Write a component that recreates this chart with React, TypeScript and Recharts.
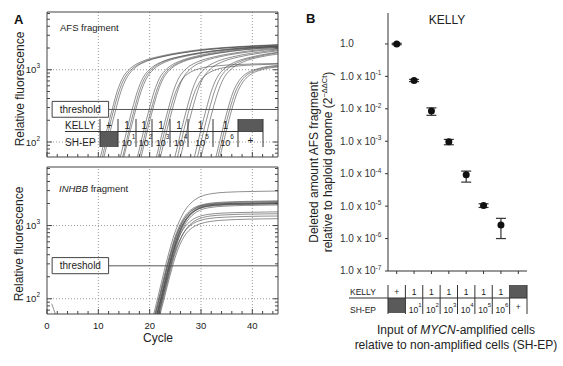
import React from 'react';
import {
  LineChart, Line, XAxis, YAxis, ReferenceLine, ReferenceArea,
  ScatterChart, Scatter, ErrorBar,
} from 'recharts';

type Pt = [number, number];

// ---------- Panel A data: amplification curves [cycle, relative fluorescence] ----------
const afsCurves: Pt[][] = [
  [[9.7,40],[10.7,75],[11.7,150],[12.7,282],[13.7,510],[14.7,760],[15.7,960],[16.7,1110],[18.7,1320],[21.7,1520],[25.7,1730],[30.7,1930],[36.7,2080],[45,2230]],
  [[10,38],[11,72],[12,145],[13,280],[14,495],[15,740],[16,940],[17,1090],[19,1300],[22,1500],[26,1700],[31,1900],[37,2050],[45,2200]],
  [[10.4,40],[11.4,76],[12.4,148],[13.4,282],[14.4,500],[15.4,745],[16.4,945],[17.4,1100],[19.4,1310],[22.4,1510],[26.4,1710],[31.4,1910],[37.4,2060],[45,2190]],
  [[13.6,40],[14.6,76],[15.6,150],[16.6,282],[17.6,500],[18.6,750],[19.6,950],[20.6,1100],[22.6,1310],[25.6,1510],[29.6,1710],[34.6,1900],[40.6,2050],[45,2120]],
  [[14,39],[15,74],[16,148],[17,283],[18,505],[19,755],[20,955],[21,1105],[23,1320],[26,1520],[30,1720],[35,1920],[41,2070],[45,2130]],
  [[14.3,41],[15.3,77],[16.3,150],[17.3,281],[18.3,495],[19.3,740],[20.3,940],[21.3,1090],[23.3,1300],[26.3,1500],[30.3,1700],[35.3,1890],[41.3,2030],[45,2090]],
  [[16.9,40],[17.9,75],[18.9,150],[19.9,282],[20.9,505],[21.9,760],[22.9,960],[23.9,1110],[25.9,1320],[28.9,1530],[32.9,1740],[37.9,1940],[45,2100]],
  [[17.3,40],[18.3,75],[19.3,149],[20.3,282],[21.3,500],[22.3,750],[23.3,950],[24.3,1100],[26.3,1310],[29.3,1510],[33.3,1710],[38.3,1900],[45,2050]],
  [[17.6,39],[18.6,74],[19.6,148],[20.6,283],[21.6,500],[22.6,745],[23.6,945],[24.6,1095],[26.6,1300],[29.6,1500],[33.6,1700],[38.6,1890],[45,2030]],
  [[20.6,40],[21.6,75],[22.6,150],[23.6,282],[24.6,500],[25.6,750],[26.6,950],[27.6,1100],[29.6,1310],[32.6,1510],[36.6,1710],[41.6,1900],[45,1980]],
  [[21,40],[22,76],[23,150],[24,282],[25,480],[26,680],[27,830],[28,930],[30,1050],[33,1130],[37,1180],[45,1220]],
  [[21.4,41],[22.4,76],[23.4,150],[24.4,281],[25.4,495],[26.4,745],[27.4,945],[28.4,1095],[30.4,1300],[33.4,1500],[37.4,1690],[42.4,1870],[45,1930]],
  [[24.2,40],[25.2,75],[26.2,150],[27.2,282],[28.2,500],[29.2,750],[30.2,950],[31.2,1100],[33.2,1310],[36.2,1510],[40.2,1710],[45,1880]],
  [[24.7,40],[25.7,75],[26.7,150],[27.7,282],[28.7,480],[29.7,670],[30.7,820],[31.7,920],[33.7,1040],[36.7,1120],[40.7,1170],[45,1200]],
  [[25.3,40],[26.3,76],[27.3,150],[28.3,282],[29.3,495],[30.3,745],[31.3,940],[32.3,1090],[34.3,1300],[37.3,1500],[41.3,1690],[45,1830]],
  [[28,40],[29,75],[30,150],[31,282],[32,500],[33,750],[34,950],[35,1100],[37,1310],[40,1510],[45,1750]],
  [[28.6,40],[29.6,75],[30.6,150],[31.6,282],[32.6,495],[33.6,740],[34.6,940],[35.6,1090],[37.6,1300],[40.6,1500],[45,1720]],
  [[29.3,41],[30.3,76],[31.3,150],[32.3,282],[33.3,490],[34.3,735],[35.3,930],[36.3,1080],[38.3,1290],[41.3,1490],[45,1650]],
  [[32.2,40],[33.2,75],[34.2,150],[35.2,282],[36.2,480],[37.2,670],[38.2,820],[39.2,920],[41.2,1040],[45,1150]],
  [[32.6,40],[33.6,75],[34.6,150],[35.6,282],[36.6,475],[37.6,660],[38.6,810],[39.6,910],[41.6,1030],[45,1120]],
  [[33,40],[34,76],[35,150],[36,282],[37,470],[38,650],[39,790],[40,890],[42,1010],[45,1090]],
];

const inhbbCurves: Pt[][] = [
  [[19.8,35],[20.8,62],[21.8,120],[22.8,235],[23.8,440],[24.8,760],[25.8,1150],[26.8,1580],[27.8,1950],[28.8,2250],[30,2500],[32,2720],[35,2850],[40,2920],[45,2960]],
  [[20,36],[21,62],[22,118],[23,228],[24,420],[25,720],[26,1060],[27,1380],[28,1630],[29,1800],[31,1980],[34,2080],[38,2130],[45,2180]],
  [[20.2,37],[21.2,63],[22.2,119],[23.2,230],[24.2,425],[25.2,715],[26.2,1040],[27.2,1350],[28.2,1600],[29.2,1770],[31.2,1950],[34.2,2040],[38.2,2090],[45,2130]],
  [[20.4,35],[21.4,61],[22.4,116],[23.4,225],[24.4,415],[25.4,700],[26.4,1020],[27.4,1320],[28.4,1560],[29.4,1730],[31.4,1900],[34.4,1990],[38.4,2030],[45,2070]],
  [[20.1,36],[21.1,62],[22.1,117],[23.1,226],[24.1,418],[25.1,705],[26.1,1030],[27.1,1330],[28.1,1570],[29.1,1740],[31.1,1910],[34.1,1980],[38.1,2010],[45,2040]],
  [[20.6,36],[21.6,62],[22.6,118],[23.6,228],[24.6,420],[25.6,710],[26.6,1030],[27.6,1320],[28.6,1550],[29.6,1710],[31.6,1870],[34.6,1950],[38.6,1990],[45,2010]],
  [[20.3,34],[21.3,60],[22.3,115],[23.3,222],[24.3,410],[25.3,690],[26.3,1000],[27.3,1280],[28.3,1500],[29.3,1660],[31.3,1820],[34.3,1900],[38.3,1940],[45,1970]],
  [[20.5,35],[21.5,61],[22.5,117],[23.5,226],[24.5,416],[25.5,700],[26.5,1010],[27.5,1300],[28.5,1520],[29.5,1690],[31.5,1850],[34.5,1930],[38.5,1960],[45,1990]],
  [[20.7,35],[21.7,60],[22.7,114],[23.7,220],[24.7,405],[25.7,680],[26.7,980],[27.7,1250],[28.7,1460],[29.7,1610],[31.7,1760],[34.7,1840],[38.7,1880],[45,1910]],
  [[20.4,35],[21.4,60],[22.4,112],[23.4,215],[24.4,390],[25.4,620],[26.4,860],[27.4,1060],[28.4,1210],[29.4,1310],[31.4,1420],[34.4,1480],[38.4,1510],[45,1540]],
  [[20.8,34],[21.8,59],[22.8,110],[23.8,210],[24.8,380],[25.8,600],[26.8,830],[27.8,1020],[28.8,1160],[29.8,1250],[31.8,1350],[34.8,1400],[38.8,1430],[45,1450]],
  [[20.6,34],[21.6,58],[22.6,108],[23.6,205],[24.6,370],[25.6,580],[26.6,790],[27.6,960],[28.6,1080],[29.6,1160],[31.6,1250],[34.6,1300],[38.6,1330],[45,1350]],
  [[20.9,33],[21.9,57],[22.9,106],[23.9,200],[24.9,355],[25.9,550],[26.9,740],[27.9,890],[28.9,990],[29.9,1060],[31.9,1140],[34.9,1190],[38.9,1220],[45,1240]],
  [[0.9,86],[1.3,72],[1.7,60],[2.1,50]],
];

const cycleTicks = [0, 2, 4, 6, 8, 10, 12, 14, 16, 18, 20, 22, 24, 26, 28, 30, 32, 34, 36, 38, 40, 42, 44];
const cycleLabels = [0, 10, 20, 30, 40];
const fluorTicks = [70, 80, 90, 100, 200, 300, 400, 500, 600, 700, 800, 900, 1000, 2000, 3000, 4000, 5000, 6000];
const fluorLabels = [100, 1000];
const fluorDomain: [number, number] = [62, 6300];
const threshold = 282;
const thresholdBox = { x1: 1, x2: 12, y1: 220, y2: 365 };

// ---------- Table rows (shared by panels A and B) ----------
const kellyInput = ['+', '1', '1', '1', '1', '1', '1', ''];
const shepInput = ['', '1', '2', '3', '4', '5', '6', '+'];

// ---------- Panel B data ----------
const bCategories = [1, 2, 3, 4, 5, 6, 7, 8];
const bValues = [1.0, 0.075, 0.0085, 0.00097, 0.000093, 0.0000105, 0.0000026];
const bErrLow = [0.05, 0.006, 0.0022, 0.00019, 0.000038, 0.0000014, 0.0000016];
const bErrHigh = [0.05, 0.006, 0.0022, 0.00017, 0.000027, 0.0000013, 0.0000016];
const bTicks = [1, 0.1, 0.01, 0.001, 0.0001, 0.00001, 0.000001, 0.0000001];
const bDomain: [number, number] = [0.0000001, 9];

const bData = bValues.map((v, i) => ({ x: bCategories[i], y: v, err: [bErrLow[i], bErrHigh[i]] }));

const FONT = '"Liberation Sans", Arial, Helvetica, sans-serif';
const AX = '#444';
const toData = (c: Pt[]) => c.map(([cy, v]) => ({ c: cy, v }));

// ---------- tick renderers ----------
const makeXTick = (side: 'bottom' | 'top', showLabels: boolean) => (p: any) => {
  const { x, y, payload } = p;
  const v = payload.value;
  const major = cycleLabels.includes(v);
  const len = major ? 5 : 3;
  const dir = side === 'bottom' ? -1 : 1;
  return (
    <g>
      <line x1={x} y1={y} x2={x} y2={y + dir * len} stroke={AX} strokeWidth={1} />
      {showLabels && major && (
        <text x={x} y={y + 14.5} textAnchor="middle" fontSize={9.5} fill="#222">{v}</text>
      )}
    </g>
  );
};

const makeYTick = (side: 'left' | 'right', showLabels: boolean) => (p: any) => {
  const { x, y, payload } = p;
  const v = payload.value;
  const major = fluorLabels.includes(v);
  const len = major ? 5 : 3;
  const dir = side === 'left' ? 1 : -1;
  return (
    <g>
      <line x1={x} y1={y} x2={x + dir * len} y2={y} stroke={AX} strokeWidth={1} />
      {showLabels && major && (
        <text x={x - 7} y={y + 3.5} textAnchor="end" fontSize={9.5} fill="#222">
          10<tspan dy={-5} fontSize={6.5}>{Math.round(Math.log10(v))}</tspan>
        </text>
      )}
    </g>
  );
};

const BYTick = (p: any) => {
  const { x, y, payload } = p;
  const e = Math.round(Math.log10(payload.value));
  return (
    <g>
      <line x1={x} y1={y} x2={x - 3} y2={y} stroke="#333" strokeWidth={1} />
      <text x={x - 48} y={y + 3.4} fontSize={10} fill="#333">
        {e === 0 ? '1.0' : (<>1.0 x 10<tspan dy={-4.5} fontSize={6.5}>{String(e)}</tspan></>)}
      </text>
    </g>
  );
};

const B_HALF = 8.7;
const BXTick = (p: any) => {
  const { x, y, payload } = p;
  const i = payload.value - 1;
  const k = kellyInput[i];
  const s = shepInput[i];
  return (
    <g fontSize={8.5} fill="#222">
      <line x1={x} y1={y} x2={x} y2={y + 3} stroke="#333" strokeWidth={1} />
      {k === '' ? (
        <rect x={x - B_HALF} y={y + 14} width={B_HALF * 2} height={13} fill="#5a5a5a" />
      ) : (
        <text x={x} y={y + 24} textAnchor="middle">{k}</text>
      )}
      {s === '' ? (
        <rect x={x - B_HALF} y={y + 27} width={B_HALF * 2} height={15} fill="#5a5a5a" />
      ) : s === '+' ? (
        <text x={x} y={y + 39} textAnchor="middle">+</text>
      ) : (
        <text x={x + 1} y={y + 41.5} textAnchor="middle">10<tspan dy={-6} fontSize={6}>{s}</tspan></text>
      )}
      {i === 0 && <line x1={x - B_HALF} y1={y + 14} x2={x - B_HALF} y2={y + 43} stroke="#333" strokeWidth={1} />}
      <line x1={x + B_HALF} y1={y + 14} x2={x + B_HALF} y2={y + 43} stroke="#333" strokeWidth={1} />
    </g>
  );
};

// ---------- Panel A plot ----------
const QPCRPlot = ({ curves, showXLabels }: { curves: Pt[][]; showXLabels: boolean }) => (
  <>
    <XAxis xAxisId="b" dataKey="c" type="number" domain={[0, 45]} allowDataOverflow ticks={cycleTicks}
      interval={0} height={1} tickSize={0} tickMargin={0} tickLine={false}
      axisLine={{ stroke: AX }} tick={makeXTick('bottom', showXLabels)} />
    <XAxis xAxisId="t" orientation="top" type="number" domain={[0, 45]} allowDataOverflow ticks={cycleTicks}
      interval={0} height={1} tickSize={0} tickMargin={0} tickLine={false}
      axisLine={{ stroke: AX }} tick={makeXTick('top', false)} />
    <YAxis yAxisId="l" dataKey="v" type="number" scale="log" domain={fluorDomain} allowDataOverflow ticks={fluorTicks}
      interval={0} width={47} tickSize={0} tickMargin={0} tickLine={false}
      axisLine={{ stroke: AX }} tick={makeYTick('left', true)} />
    <YAxis yAxisId="r" orientation="right" type="number" scale="log" domain={fluorDomain} allowDataOverflow ticks={fluorTicks}
      interval={0} width={1} tickSize={0} tickMargin={0} tickLine={false}
      axisLine={{ stroke: AX }} tick={makeYTick('right', false)} />
    {[10, 20, 30, 40].map((g) => (
      <ReferenceLine key={'gx' + g} xAxisId="b" yAxisId="l" x={g} stroke="#999" strokeDasharray="1 2" />
    ))}
    {fluorLabels.map((g) => (
      <ReferenceLine key={'gy' + g} xAxisId="b" yAxisId="l" y={g} stroke="#999" strokeDasharray="1 2" />
    ))}
    {curves.map((c, i) => (
      <Line key={i} xAxisId="b" yAxisId="l" data={toData(c)} dataKey="v" type="monotone" dot={false}
        stroke="#454545" strokeWidth={0.6} isAnimationActive={false} />
    ))}
    <ReferenceLine xAxisId="b" yAxisId="l" segment={[{ x: thresholdBox.x2, y: threshold }, { x: 45, y: threshold }]}
      stroke="#555" strokeWidth={1} />
    <ReferenceArea xAxisId="b" yAxisId="l" x1={thresholdBox.x1} x2={thresholdBox.x2} y1={thresholdBox.y1} y2={thresholdBox.y2}
      fill="#fff" fillOpacity={1} stroke="#444" strokeWidth={1}
      label={{ value: 'threshold', position: 'center', fontSize: 10, fill: '#222' }} />
  </>
);

const aCols = [100, 118, 136, 152, 170, 188, 213, 238, 263];

export default function App() {
  return (
    <div style={{ position: 'absolute', left: 0, top: 0, width: 563, height: 366, background: '#fff', fontFamily: FONT, overflow: 'hidden' }}>
      {/* Panel A top */}
      <div style={{ position: 'absolute', left: 0, top: 0 }}>
        <LineChart width={290} height={170} margin={{ top: 11, right: 11, bottom: 12, left: 0 }}>
          {QPCRPlot({ curves: afsCurves, showXLabels: false })}
        </LineChart>
      </div>
      {/* Panel A bottom */}
      <div style={{ position: 'absolute', left: 0, top: 160 }}>
        <LineChart width={290} height={206} margin={{ top: 6, right: 11, bottom: 51, left: 0 }}>
          {QPCRPlot({ curves: inhbbCurves, showXLabels: true })}
        </LineChart>
      </div>
      {/* Panel B */}
      <div style={{ position: 'absolute', left: 290, top: 0 }}>
        <ScatterChart width={273} height={366} margin={{ top: 13, right: 36, bottom: 35, left: 0 }}>
          <XAxis dataKey="x" type="number" domain={[0.5, 8.5]} allowDataOverflow ticks={bCategories} interval={0}
            height={60} tickSize={0} tickMargin={0} tickLine={false} axisLine={{ stroke: '#333' }} tick={BXTick} />
          <YAxis dataKey="y" type="number" scale="log" domain={bDomain} allowDataOverflow ticks={bTicks} interval={0}
            width={98} tickSize={0} tickMargin={0} tickLine={false} axisLine={{ stroke: '#333' }} tick={BYTick} />
          <Scatter data={bData} isAnimationActive={false}
            shape={(p: any) => <circle cx={p.cx} cy={p.cy} r={3.5} fill="#111" />}>
            <ErrorBar dataKey="err" direction="y" width={5} stroke="#333" strokeWidth={1.2} isAnimationActive={false} />
          </Scatter>
        </ScatterChart>
      </div>

      {/* annotations */}
      <svg width={563} height={366} style={{ position: 'absolute', left: 0, top: 0, pointerEvents: 'none' }}>
        <text x={14} y={24} fontSize={13} fontWeight="bold" fill="#111">A</text>
        <text x={60} y={31} fontSize={9.5} fill="#222">AFS fragment</text>
        <text x={59} y={192} fontSize={9.5} fill="#222"><tspan fontStyle="italic">INHBB</tspan> fragment</text>
        <text x={24} y={89} fontSize={12} fill="#222" textAnchor="middle" transform="rotate(-90 24 89)">Relative fluorescence</text>
        <text x={23} y={244} fontSize={12} fill="#222" textAnchor="middle" transform="rotate(-90 23 244)">Relative fluorescence</text>
        <text x={158} y={342} fontSize={12} fill="#222" textAnchor="middle">Cycle</text>

        {/* Panel A table */}
        <text x={65} y={129} fontSize={10} fill="#222">KELLY</text>
        <text x={65} y={146} fontSize={10} fill="#222">SH-EP</text>
        <line x1={65} y1={131.5} x2={263} y2={131.5} stroke="#333" strokeWidth={1} />
        {kellyInput.map((k, i) => {
          const x0 = aCols[i], x1 = aCols[i + 1], cx = (x0 + x1) / 2;
          return k === '' ? (
            <rect key={'ak' + i} x={x0} y={119} width={x1 - x0} height={12.5} fill="#5a5a5a" />
          ) : (
            <text key={'ak' + i} x={cx} y={128.5} fontSize={10} textAnchor="middle" fill="#222">{k}</text>
          );
        })}
        {shepInput.map((s, i) => {
          const x0 = aCols[i], x1 = aCols[i + 1], cx = (x0 + x1) / 2;
          if (s === '') return <rect key={'as' + i} x={x0} y={131.5} width={x1 - x0} height={15.5} fill="#5a5a5a" />;
          if (s === '+') return <text key={'as' + i} x={cx} y={144} fontSize={10} textAnchor="middle" fill="#222">+</text>;
          return (
            <text key={'as' + i} x={cx + 1.5} y={145.5} fontSize={9} textAnchor="middle" fill="#222">
              10<tspan dy={-7} fontSize={6.5}>{s}</tspan>
            </text>
          );
        })}
        {aCols.map((x, i) => (
          <line key={'ac' + i} x1={x} y1={119} x2={x} y2={147} stroke="#333" strokeWidth={1} />
        ))}

        {/* Panel B annotations */}
        <text x={306} y={23} fontSize={13} fontWeight="bold" fill="#111">B</text>
        <text x={447} y={24} fontSize={12} fill="#222" textAnchor="middle">KELLY</text>
        <text x={318} y={162} fontSize={12} fill="#222" textAnchor="middle" transform="rotate(-90 318 162)">Deleted amount AFS fragment</text>
        <text x={332} y={162} fontSize={12} fill="#222" textAnchor="middle" transform="rotate(-90 332 162)">
          relative to haploid genome (2<tspan dy={-5} fontSize={7.5}>−ΔΔCt</tspan><tspan dy={5}>)</tspan>
        </text>
        <text x={350} y={295} fontSize={8.5} fill="#222">KELLY</text>
        <text x={350} y={312.5} fontSize={8.5} fill="#222">SH-EP</text>
        <line x1={349} y1={298} x2={527} y2={298} stroke="#333" strokeWidth={1} />
        <text x={456} y={334} fontSize={12} fill="#222" textAnchor="middle">
          Input of <tspan fontStyle="italic">MYCN</tspan>-amplified cells
        </text>
        <text x={456} y={349} fontSize={12} fill="#222" textAnchor="middle">relative to non-amplified cells (SH-EP)</text>
      </svg>
    </div>
  );
}
